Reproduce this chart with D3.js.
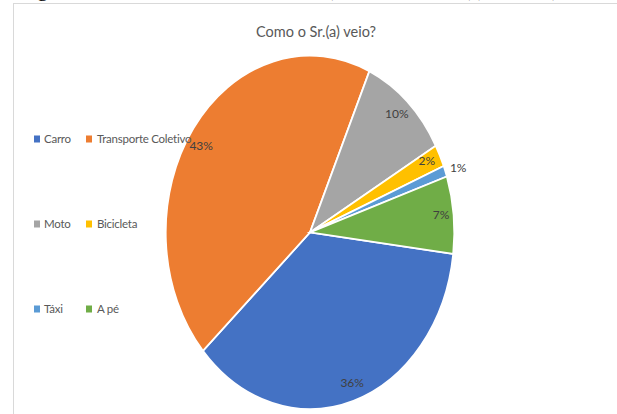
<!DOCTYPE html>
<html>
<head>
<meta charset="utf-8">
<script src="https://cdn.jsdelivr.net/npm/d3@7"></script>
<style>
  html, body { margin: 0; padding: 0; background: #fff; }
  svg { display: block; }
</style>
</head>
<body>
<svg id="chart" width="617" height="414"></svg>
<script>
// Survey answers: how the respondent arrived
const categories = ["Carro", "Transporte Coletivo", "Moto", "Bicicleta", "Táxi", "A pé"];
const percentages = [36, 43, 10, 2, 1, 7];
const colors = ["#4472C4", "#ED7D31", "#A5A5A5", "#FFC000", "#5B9BD5", "#70AD47"];
const title = "Como o Sr.(a) veio?";

const W = 617, H = 414;
const svg = d3.select("#chart");
const fontUI = "Lato, 'Open Sans', sans-serif";

// Bottom edge of the document caption above the chart frame
const caption = svg.append("g")
  .attr("font-family", "'Liberation Serif', 'DejaVu Serif', serif")
  .attr("font-size", 22).attr("fill", "#000");
[["g", 37], ["(", 326], ["(", 463], [")", 478], [")", 552]].forEach(([t, x]) => {
  caption.append("text").attr("x", x).attr("y", -4).text(t);
});

// Chart frame
svg.append("line").attr("x1", 13).attr("x2", W).attr("y1", 3.5).attr("y2", 3.5)
  .attr("stroke", "#d9d9d9").attr("stroke-width", 1);
svg.append("line").attr("x1", 13.5).attr("x2", 13.5).attr("y1", 3).attr("y2", H)
  .attr("stroke", "#d9d9d9").attr("stroke-width", 1);

// Title
svg.append("text")
  .attr("x", 316).attr("y", 37)
  .attr("text-anchor", "middle")
  .attr("font-family", fontUI)
  .attr("font-size", 14.5)
  .attr("fill", "#595959")
  .text(title);

// Pie geometry (drawn on a unit circle, then stretched into an ellipse)
const cx = 310, cy = 232.4, rx = 144.3, ry = 176.7;
const R = 100;
const startDeg = 97;

const data = categories.map((c, i) => ({ cat: c, value: percentages[i], color: colors[i] }));
const pie = d3.pie().value(d => d.value).sort(null)
  .startAngle(startDeg * Math.PI / 180)
  .endAngle((startDeg + 360) * Math.PI / 180);
const arcs = pie(data);
const arc = d3.arc().innerRadius(0).outerRadius(R);

const pieG = svg.append("g")
  .attr("transform", `translate(${cx},${cy}) scale(${rx / R},${ry / R})`);
pieG.selectAll("path")
  .data(arcs)
  .join("path")
  .attr("d", arc)
  .attr("fill", d => d.data.color)
  .attr("stroke", "#fff")
  .attr("stroke-width", 1.8)
  .attr("vector-effect", "non-scaling-stroke");

// Data labels: radial fraction and angle nudge (degrees) per slice; Táxi sits outside
const labelRadius = [0.90, 0.90, 0.90, 0.906, 1.09, 0.913];
const labelNudge = [-1.4, -3, -0.5, -0.9, 0.7, -0.5];
svg.append("g").selectAll("text")
  .data(arcs)
  .join("text")
  .attr("x", (d, i) => {
    const a = (d.startAngle + d.endAngle) / 2 + labelNudge[i] * Math.PI / 180;
    return cx + Math.sin(a) * rx * labelRadius[i];
  })
  .attr("y", (d, i) => {
    const a = (d.startAngle + d.endAngle) / 2 + labelNudge[i] * Math.PI / 180;
    return cy - Math.cos(a) * ry * labelRadius[i];
  })
  .attr("dy", "0.35em")
  .attr("text-anchor", "middle")
  .attr("font-family", fontUI)
  .attr("font-size", 12)
  .attr("fill", "#404040")
  .text(d => d.data.value + "%");

// Legend: two columns, three rows
const legendRows = [139, 224, 309];
const legendCols = [[34, 44], [86, 97]];
const legend = svg.append("g").attr("font-family", fontUI).attr("font-size", 11.5)
  .attr("letter-spacing", -0.25).attr("fill", "#595959");
data.forEach((d, i) => {
  const row = Math.floor(i / 2), col = i % 2;
  const y = legendRows[row];
  legend.append("rect")
    .attr("x", legendCols[col][0]).attr("y", y - 3.5)
    .attr("width", 6).attr("height", 7)
    .attr("fill", d.color);
  legend.append("text")
    .attr("x", legendCols[col][1]).attr("y", y)
    .attr("dy", "0.35em")
    .text(d.cat);
});
</script>
</body>
</html>
